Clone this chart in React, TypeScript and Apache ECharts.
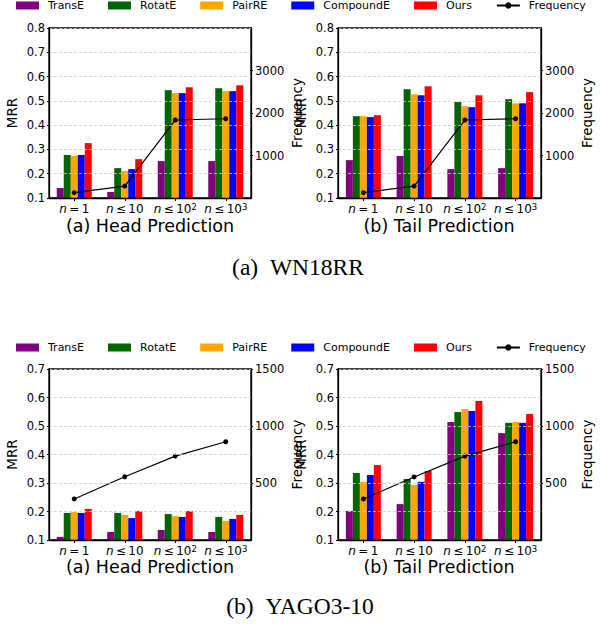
import React, { useEffect, useRef } from 'react';
import * as echarts from 'echarts';

const models = ['TransE', 'RotatE', 'PairRE', 'CompoundE', 'Ours'];
const colors = ['#800080', '#006400', '#FFA500', '#0000FF', '#FF0000'];
const categories = ['n = 1', 'n ≤ 10', 'n ≤ 10^2', 'n ≤ 10^3'];

// rows: TransE, RotatE, PairRE, CompoundE, Ours
const wnHeadMRR = [
  [0.141, 0.125, 0.252, 0.252],
  [0.277, 0.223, 0.544, 0.552],
  [0.273, 0.211, 0.532, 0.540],
  [0.277, 0.219, 0.532, 0.540],
  [0.326, 0.260, 0.556, 0.564],
];
const wnTailMRR = [
  [0.256, 0.273, 0.219, 0.223],
  [0.437, 0.548, 0.495, 0.507],
  [0.437, 0.527, 0.478, 0.490],
  [0.433, 0.523, 0.474, 0.490],
  [0.441, 0.560, 0.523, 0.536],
];
const wnHeadFreq = [125, 281, 1835, 1865];
const wnTailFreq = [125, 281, 1835, 1865];

const yagoHeadMRR = [
  [0.111, 0.128, 0.135, 0.128],
  [0.195, 0.195, 0.191, 0.181],
  [0.198, 0.188, 0.184, 0.167],
  [0.195, 0.177, 0.181, 0.174],
  [0.209, 0.202, 0.202, 0.188],
];
const yagoTailMRR = [
  [0.202, 0.226, 0.514, 0.475],
  [0.335, 0.314, 0.549, 0.511],
  [0.304, 0.293, 0.560, 0.514],
  [0.328, 0.304, 0.553, 0.511],
  [0.363, 0.342, 0.588, 0.542],
];
const yagoHeadFreq = [360, 555, 736, 862];
const yagoTailFreq = [360, 553, 736, 862];

const wnFreqTicks = [1000, 2000, 3000];
const yagoFreqTicks = [500, 1000, 1500];

const FONT = 'DejaVu Sans';

export default function App() {
  const ref = useRef<HTMLDivElement>(null);

  useEffect(() => {
    if (!ref.current) return;
    const chart = echarts.init(ref.current, undefined, { renderer: 'svg' });

    const panels = [
      { left: 49, top: 28, width: 202, height: 170, mrr: wnHeadMRR, freq: wnHeadFreq, mrrMax: 0.8, freqMax: 4000, freqInt: 1000, freqTicks: wnFreqTicks },
      { left: 338, top: 28, width: 203, height: 170, mrr: wnTailMRR, freq: wnTailFreq, mrrMax: 0.8, freqMax: 4000, freqInt: 1000, freqTicks: wnFreqTicks },
      { left: 49, top: 369, width: 202, height: 171, mrr: yagoHeadMRR, freq: yagoHeadFreq, mrrMax: 0.7, freqMax: 1500, freqInt: 500, freqTicks: yagoFreqTicks },
      { left: 338, top: 369, width: 203, height: 171, mrr: yagoTailMRR, freq: yagoTailFreq, mrrMax: 0.7, freqMax: 1500, freqInt: 500, freqTicks: yagoFreqTicks },
    ];

    const grid: any[] = [];
    const xAxis: any[] = [];
    const yAxis: any[] = [];
    const series: any[] = [];

    const catFormatter = (v: string) => {
      const [base, sup] = v.split('^');
      const rest = base.slice(1).replace(/ /g, '\u2009');
      return `{i|n}{t|${rest}}` + (sup ? `{s|${sup}}` : '');
    };

    panels.forEach((p, i) => {
      grid.push({
        left: p.left, top: p.top, width: p.width, height: p.height,
        show: true, borderColor: '#000', borderWidth: 1.3, backgroundColor: 'transparent',
      });
      xAxis.push({
        type: 'category', gridIndex: i, data: categories, z: 10,
        axisLine: { show: true, lineStyle: { color: '#000', width: 1.3 } },
        axisTick: { show: true, alignWithLabel: true, length: 3, lineStyle: { color: '#000' } },
        axisLabel: {
          interval: 0, margin: 4, formatter: catFormatter, color: '#000',
          rich: {
            i: { fontStyle: 'italic', fontSize: 12, fontFamily: FONT, color: '#000', lineHeight: 14 },
            t: { fontSize: 12, fontFamily: FONT, color: '#000', lineHeight: 14 },
            s: { fontSize: 8.5, fontFamily: FONT, color: '#000', verticalAlign: 'top', lineHeight: 14 },
          },
        },
      });
      yAxis.push({
        type: 'value', gridIndex: i, min: 0.1, max: p.mrrMax, interval: 0.1, position: 'left', z: 10,
        name: 'MRR', nameLocation: 'middle', nameGap: 30, nameRotate: 90,
        nameTextStyle: { fontSize: 13.5, fontFamily: FONT, color: '#000' },
        axisLine: { show: true, lineStyle: { color: '#000', width: 1.3 } },
        axisTick: { show: true, length: 2, lineStyle: { color: '#000' } },
        axisLabel: { margin: 4, fontSize: 11.5, fontFamily: FONT, color: '#000', formatter: (v: number) => v.toFixed(1) },
        splitLine: { show: true, lineStyle: { color: '#cccccc', type: [3, 2], width: 0.8 } },
      });
      yAxis.push({
        type: 'value', gridIndex: i, min: 0, max: p.freqMax, interval: p.freqInt, position: 'right', z: 10,
        name: 'Frequency', nameLocation: 'middle', nameGap: 39, nameRotate: 90,
        nameTextStyle: { fontSize: 13.5, fontFamily: FONT, color: '#000' },
        axisLine: { show: true, lineStyle: { color: '#000', width: 1.3 } },
        axisTick: { show: true, length: 2, customValues: p.freqTicks, lineStyle: { color: '#000' } },
        axisLabel: {
          margin: 4, fontSize: 11.5, fontFamily: FONT, color: '#000', customValues: p.freqTicks,
          formatter: (v: number) => String(Math.round(v)),
        },
        splitLine: { show: false },
      });
      models.forEach((m, k) => {
        series.push({
          type: 'bar', name: m, xAxisIndex: i, yAxisIndex: i * 2,
          data: p.mrr[k], barWidth: 7, barGap: '0%',
          itemStyle: { color: colors[k] },
        });
      });
      series.push({
        type: 'line', name: 'Frequency', xAxisIndex: i, yAxisIndex: i * 2 + 1,
        data: p.freq, symbol: 'circle', symbolSize: 5, z: 5,
        lineStyle: { color: '#000', width: 1.2 }, itemStyle: { color: '#000' },
      });
    });

    const legendData = [
      ...models.map((m) => ({ name: m, icon: 'rect' })),
      { name: 'Frequency' },
    ];
    const legendBase = {
      left: 16, padding: 0, itemWidth: 23, itemHeight: 8, itemGap: 24, data: legendData,
      textStyle: { fontSize: 11, fontFamily: FONT, color: '#000', padding: [0, 0, 0, 4] },
    };

    const subtitle = (text: string, x: number, y: number) => ({
      type: 'text', x, y,
      style: { text, fontSize: 17.5, fontFamily: FONT, fill: '#000', textAlign: 'center', textVerticalAlign: 'middle' },
    });
    const caption = (text: string, x: number, y: number) => ({
      type: 'text', x, y,
      style: { text, fontSize: 23.5, fontFamily: 'Liberation Serif', fill: '#000', textAlign: 'center', textVerticalAlign: 'middle' },
    });

    chart.setOption({
      animation: false,
      backgroundColor: '#fff',
      legend: [
        { ...legendBase, top: 0 },
        { ...legendBase, top: 342 },
      ],
      grid, xAxis, yAxis, series,
      graphic: [
        subtitle('(a) Head Prediction', 150, 226),
        subtitle('(b) Tail Prediction', 439, 226),
        subtitle('(a) Head Prediction', 150, 567),
        subtitle('(b) Tail Prediction', 439, 567),
        caption('(a)\u00a0\u00a0WN18RR', 298, 267),
        caption('(b)\u00a0\u00a0YAGO3-10', 300, 606),
      ],
    });

    return () => chart.dispose();
  }, []);

  return <div ref={ref} style={{ position: 'absolute', left: 0, top: 0, width: 601, height: 626 }} />;
}
